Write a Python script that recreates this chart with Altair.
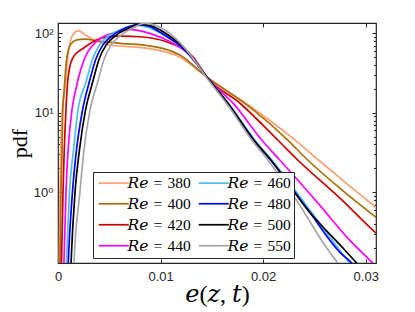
import altair as alt
import pandas as pd

# Reynolds numbers and line colours
re_values = [380, 400, 420, 440, 460, 480, 500, 550]
colors = ["#FFA070", "#A8700A", "#CC0000", "#FF00FF", "#4DBEEE", "#0000FF", "#000000", "#A6A6A6"]

e380 = [0.0001, 0.00013, 0.000195, 0.00024, 0.00036, 0.00068, 0.001, 0.00133, 0.00198, 0.00243, 0.00282,
        0.0036, 0.00506, 0.00857, 0.01188, 0.01451, 0.0187, 0.02288, 0.02502, 0.02795, 0.03096, 0.03184]
p380 = [0.059, 0.129, 1.01, 2.34, 8.1, 21.3, 55.4, 89.8, 108.4, 101, 92.5,
        82, 71.3, 65.3, 50, 28.2, 12.2, 4.8, 2.8, 1.35, 0.65, 0.53]

e400 = [0.00015, 0.000195, 0.00029, 0.00039, 0.00046, 0.00061, 0.00078, 0.00104, 0.00143, 0.00194, 0.0026,
        0.00399, 0.0063, 0.00867, 0.01188, 0.01451, 0.0187, 0.0224, 0.02434, 0.02746, 0.03096, 0.03184]
p400 = [0.059, 0.129, 1.01, 3.12, 10.2, 20.1, 39.9, 64, 77.8, 83.5, 84.7,
        79.8, 74.4, 70.3, 53.3, 28.2, 11.8, 4.55, 2.55, 1.13, 0.49, 0.40]

e420 = [0.00024, 0.00034, 0.00049, 0.00078, 0.00094, 0.00127, 0.00175, 0.0024, 0.00338, 0.00467, 0.0063,
        0.00798, 0.01058, 0.01315, 0.01451, 0.01772, 0.02142, 0.02337, 0.02746, 0.03096, 0.03184]
p420 = [0.059, 0.129, 1.01, 11.3, 24.4, 43.6, 55.4, 64, 77.8, 89.8, 92.5,
        90.6, 78.3, 50.8, 28.2, 13.3, 4.55, 2.55, 0.85, 0.31, 0.244]

e440 = [0.00049, 0.00058, 0.00078, 0.00136, 0.00175, 0.00224, 0.00289, 0.0037, 0.00467, 0.00581, 0.00669,
        0.00896, 0.0112, 0.01315, 0.01451, 0.01723, 0.01986, 0.02162, 0.02551, 0.02843, 0.03067, 0.03135]
p440 = [0.059, 0.129, 1.01, 10.8, 20.1, 35.9, 58.2, 77.8, 94.4, 103.8, 112,
        100, 74.9, 48.9, 28.2, 12.5, 4.55, 2.55, 0.69, 0.25, 0.129, 0.105]

e460 = [0.00073, 0.00083, 0.00112, 0.00151, 0.00195, 0.00273, 0.00338, 0.00402, 0.005, 0.0063, 0.00749,
        0.00896, 0.00993, 0.01237, 0.01451, 0.01675, 0.01918, 0.02084, 0.02454, 0.02746, 0.02843, 0.02902]
p460 = [0.059, 0.129, 1.01, 3.4, 10.8, 24.4, 47.9, 70.6, 94.4, 114, 127,
        117, 101, 61.6, 28.2, 12.5, 4.55, 2.55, 0.6, 0.188, 0.129, 0.105]

e480 = [0.0009, 0.001, 0.00141, 0.0018, 0.00239, 0.00305, 0.0037, 0.00435, 0.00533, 0.00662, 0.00779,
        0.00896, 0.00993, 0.01237, 0.01451, 0.01675, 0.01908, 0.02074, 0.02454, 0.02746, 0.02863, 0.02921]
p480 = [0.059, 0.129, 1.01, 3.4, 10.8, 24.4, 47.9, 70.6, 94.4, 116.6, 129,
        121.8, 103.8, 61.6, 28.2, 12.2, 4.55, 2.55, 0.56, 0.177, 0.129, 0.105]

e500 = [0.00117, 0.00127, 0.00166, 0.00209, 0.00268, 0.00338, 0.00402, 0.00467, 0.00565, 0.00694, 0.00808,
        0.00915, 0.01013, 0.01237, 0.01451, 0.01675, 0.01908, 0.02074, 0.02454, 0.02795, 0.02911, 0.0297]
p500 = [0.059, 0.129, 1.01, 3.4, 10.8, 24.4, 47.9, 70.6, 94.4, 116.6, 131,
        124, 107, 63.5, 28.2, 12.2, 4.55, 2.55, 0.56, 0.188, 0.129, 0.105]

e550 = [0.00146, 0.00156, 0.00214, 0.00253, 0.00312, 0.00387, 0.00451, 0.00516, 0.00613, 0.00727, 0.00837,
        0.00944, 0.01042, 0.01237, 0.01451, 0.01675, 0.01889, 0.02045, 0.02356, 0.026, 0.02726, 0.02775]
p550 = [0.059, 0.129, 1.01, 3.4, 10.8, 24.4, 47.9, 70.6, 94.4, 116.6, 133.6,
        127, 110, 65.3, 27.4, 11.5, 4.55, 2.55, 0.69, 0.217, 0.129, 0.105]

x_ticks = [0, 0.01, 0.02, 0.03]
y_major = [1, 10, 100]
y_minor = [0.2, 0.3, 0.4, 0.5, 0.6, 0.7, 0.8, 0.9, 2, 3, 4, 5, 6, 7, 8, 9, 20, 30, 40, 50, 60, 70, 80, 90]

series_e = [e380, e400, e420, e440, e460, e480, e500, e550]
series_p = [p380, p400, p420, p440, p460, p480, p500, p550]

def label(r):
    return "\U0001D445\U0001D452\u2004=\u2004" + str(r)

rows = []
for r, es, ps in zip(re_values, series_e, series_p):
    for e, p in zip(es, ps):
        rows.append({"series": label(r), "e": e, "pdf": p})
df = pd.DataFrame(rows)

leg_domain = [label(r) for r in re_values]

TXT = "#262626"
SANS = "Liberation Sans, Arial, DejaVu Sans"
SERIF = "Liberation Serif, DejaVu Serif"

xscale = alt.Scale(domain=[0, 0.031], nice=False, zero=False)
yscale = alt.Scale(type="log", domain=[0.129, 135], nice=False)

lines = alt.Chart(df).mark_line(strokeWidth=1.7, clip=True, interpolate="monotone").encode(
    x=alt.X("e:Q", scale=xscale, axis=alt.Axis(
        orient="bottom", values=x_ticks, format=".2~f", tickSize=4, offset=-4, domain=False,
        labelPadding=7, labelFlush=False, labelFont=SANS, labelFontSize=13, labelColor=TXT, tickColor=TXT,
        title="\U0001D452(\U0001D467, \U0001D461)", titleFont=SERIF, titleFontSize=24, titleFontWeight="normal",
        titleColor="black", titleX=159, titleY=42, titleAlign="center", titleBaseline="alphabetic")),
    y=alt.Y("pdf:Q", scale=yscale, axis=alt.Axis(
        orient="left", values=y_major,
        labelExpr="datum.value > 50 ? '10\u00b2' : (datum.value > 5 ? '10\u00b9' : '10\u2070')",
        tickSize=4, offset=-4, domain=False, labelPadding=5, labelFont=SANS, labelFontSize=13,
        labelColor=TXT, tickColor=TXT, labelBaseline="middle",
        title="pdf", titleFont=SERIF, titleFontSize=22, titleFontWeight="normal", titleColor="black",
        titleX=-43, titleY=120, titleAlign="center", titleBaseline="middle", titleAngle=-90)),
    color=alt.Color("series:N", sort=leg_domain, scale=alt.Scale(domain=leg_domain, range=colors),
                    legend=alt.Legend(orient="none", legendX=35, legendY=149, columns=2, title=None,
                                      symbolType="M-1,0H5", symbolSize=100, symbolStrokeWidth=1.7,
                                      labelFont=SERIF, labelFontSize=15.5, labelColor="black",
                                      strokeColor=TXT, fillColor="white", padding=3,
                                      rowPadding=4, columnPadding=4, labelOffset=16)),
)

mirror = alt.Chart(df).mark_point(opacity=0, clip=True).encode(
    x=alt.X("e:Q", scale=xscale, axis=alt.Axis(
        orient="top", values=x_ticks, tickSize=4, offset=-4, domain=False, labels=False,
        tickColor=TXT, title=None)),
    y=alt.Y("pdf:Q", scale=yscale, axis=alt.Axis(
        orient="right", values=y_major, tickSize=4, offset=-4, domain=False, labels=False,
        tickColor=TXT, title=None)),
)

minor_left = alt.Chart(df).mark_point(opacity=0, clip=True).encode(
    x=alt.X("e:Q", scale=xscale, axis=None),
    y=alt.Y("pdf:Q", scale=yscale, axis=alt.Axis(
        orient="left", values=y_minor, tickSize=2.5, offset=-2.5, domain=False, labels=False,
        tickColor=TXT, title=None)),
)

minor_right = alt.Chart(df).mark_point(opacity=0, clip=True).encode(
    x=alt.X("e:Q", scale=xscale, axis=None),
    y=alt.Y("pdf:Q", scale=yscale, axis=alt.Axis(
        orient="right", values=y_minor, tickSize=2.5, offset=-2.5, domain=False, labels=False,
        tickColor=TXT, title=None)),
)

chart = alt.layer(lines, mirror, minor_left, minor_right).resolve_axis(
    x="independent", y="independent"
).properties(
    width=318, height=240,
    autosize=alt.AutoSizeParams(type="none"),
    padding={"left": 50, "top": 15, "right": 31, "bottom": 49},
).configure_view(stroke=TXT, strokeWidth=1.2).configure_axis(grid=False)

chart.save("out.html", embed_options={"renderer": "svg", "actions": False})
